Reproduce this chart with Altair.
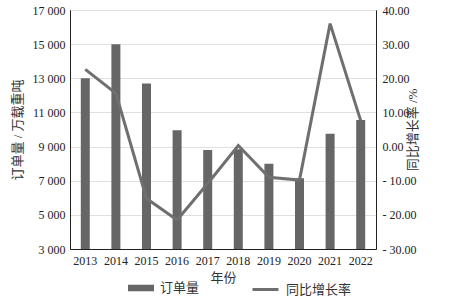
import altair as alt
import pandas as pd

years = ["2013", "2014", "2015", "2016", "2017", "2018", "2019", "2020", "2021", "2022"]
orders = [13000, 15000, 12700, 9950, 8800, 8850, 8000, 7150, 9750, 10550]
growth = [22.6, 15.6, -15.2, -21.5, -10.8, 0.3, -9.0, -9.8, 36.0, 7.6]
left_ticks = [3000, 5000, 7000, 9000, 11000, 13000, 15000, 17000]
right_ticks = [-30, -20, -10, 0, 10, 20, 30, 40]

df = pd.DataFrame({"year": years, "orders": orders, "growth": growth,
                   "s1": ["订单量"] * len(years), "s2": ["同比增长率"] * len(years)})

FONT = "'Liberation Serif', 'Times New Roman', 'Noto Sans CJK SC', serif"
BAR = "#666666"
LINE = "#6f6f6f"

x = alt.X("year:N", title="年份", scale=alt.Scale(paddingInner=0.7, paddingOuter=0.35),
          axis=alt.Axis(labelAngle=0, ticks=False, labelPadding=6, titlePadding=5,
                        domainColor="#222", labelFontSize=12, titleFontSize=13,
                        labelFont=FONT, titleFont=FONT))

bars = alt.Chart(df).mark_bar(size=9, clip=True).encode(
    x=x,
    y=alt.Y("orders:Q", title="订单量 / 万载重吨",
            scale=alt.Scale(domain=[3000, 17000], nice=False, zero=False),
            axis=alt.Axis(values=left_ticks, ticks=False, domain=True, domainColor="#222",
                          labelExpr="replace(format(datum.value, ','), ',', ' ')",
                          labelPadding=5, titlePadding=8, grid=True, gridColor="#e0e0e0",
                          labelFontSize=12, titleFontSize=13,
                          labelFont=FONT, titleFont=FONT)),
    color=alt.Color("s1:N", scale=alt.Scale(domain=["订单量"], range=[BAR]),
                    legend=alt.Legend(title=None, orient="none", legendX=58, legendY=265,
                                      symbolType="M-1,-0.25L1,-0.25L1,0.25L-1,0.25Z",
                                      symbolSize=676, labelFontSize=13, labelOffset=6,
                                      symbolStrokeWidth=0, labelFont=FONT)),
)

line = alt.Chart(df).mark_line(strokeWidth=3).encode(
    x=x,
    y=alt.Y("growth:Q", title="同比增长率 /%",
            scale=alt.Scale(domain=[-30, 40], nice=False, zero=False),
            axis=alt.Axis(orient="right", values=right_ticks, ticks=False, grid=False,
                          domainColor="#222",
                          labelExpr="datum.value < 0 ? '- ' + format(-datum.value, '.2f') : format(datum.value, '.2f')",
                          labelPadding=6, titlePadding=4, titleAngle=270,
                          labelFontSize=12, titleFontSize=13,
                          labelFont=FONT, titleFont=FONT)),
    color=alt.Color("s2:N", scale=alt.Scale(domain=["同比增长率"], range=[LINE]),
                    legend=alt.Legend(title=None, orient="none", legendX=181, legendY=265,
                                      symbolType="stroke", symbolSize=676,
                                      symbolStrokeWidth=3, labelFontSize=13, labelOffset=6,
                                      labelFont=FONT)),
)

chart = alt.layer(bars, line).resolve_scale(y="independent", color="independent").properties(
    width=306, height=239,
    autosize=alt.AutoSizeParams(type="none"),
    padding={"left": 70, "top": 10, "right": 74, "bottom": 52},
).configure(font=FONT).configure_view(stroke="#222", strokeWidth=1).configure_axis(
    labelColor="#222", titleColor="#333", titleFontWeight="normal"
).configure_legend(labelColor="#333", padding=0)

chart.save("out.html", embed_options={"renderer": "svg", "actions": False})
